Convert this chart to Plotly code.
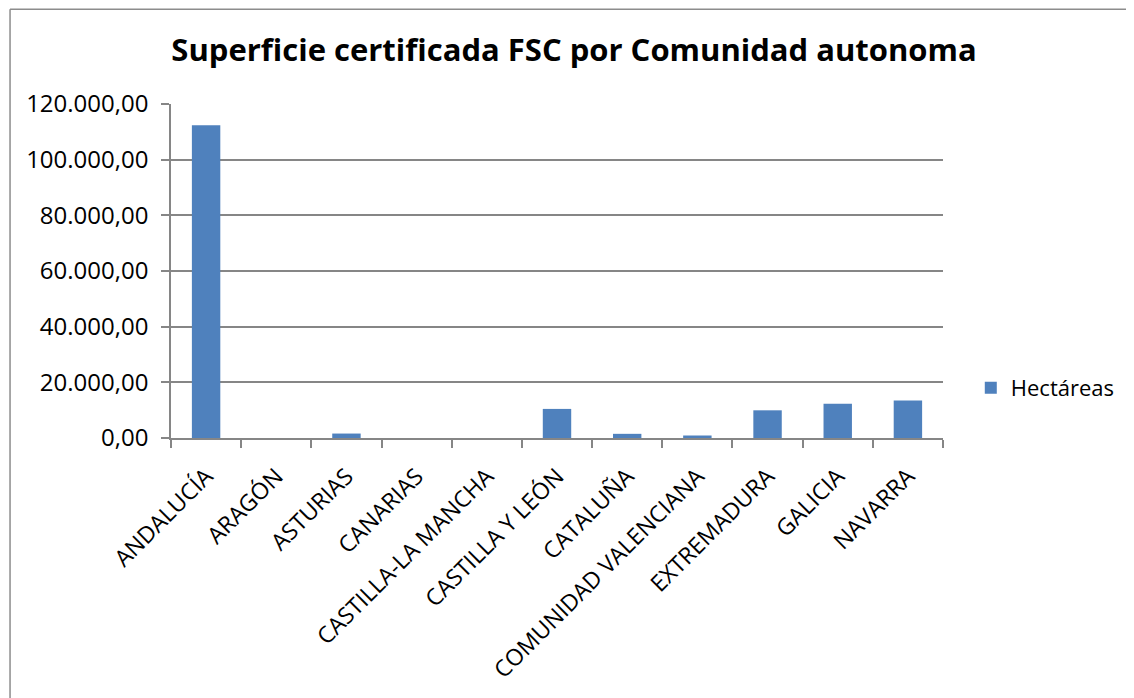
import plotly.graph_objects as go

# Superficie certificada FSC (hectáreas) por comunidad
comunidades = ["ANDALUCÍA", "ARAGÓN", "ASTURIAS", "CANARIAS", "CASTILLA-LA MANCHA",
               "CASTILLA Y LEÓN", "CATALUÑA", "COMUNIDAD VALENCIANA", "EXTREMADURA",
               "GALICIA", "NAVARRA"]
hectareas = [112400, 0, 1600, 0, 0, 10450, 1500, 900, 9950, 12350, 13450]

y_ticks = [0, 20000, 40000, 60000, 80000, 100000, 120000]

GRIS = "#868686"
AZUL = "#4F81BD"

fig = go.Figure()
fig.add_trace(go.Bar(x=comunidades, y=hectareas, name="Hectáreas",
                     marker=dict(color=AZUL, line=dict(width=0))))

# la página añade 8px de margen, así que la figura es algo más pequeña
fig.update_layout(
    width=1126, height=690,
    margin=dict(l=163, r=191, t=96, b=260, autoexpand=False),
    paper_bgcolor="white", plot_bgcolor="white",
    separators=",.",
    bargap=0.595,
    font=dict(family="Open Sans", color="black"),
    title=dict(text="<b>Superficie certificada FSC por Comunidad autonoma</b>",
               x=0.5027, xanchor="center", y=0.939, yanchor="middle",
               font=dict(size=31, family="Open Sans", color="black")),
    showlegend=True,
    legend=dict(x=1.036, y=0.15, xanchor="left", yanchor="middle",
                font=dict(size=22), itemwidth=30, bgcolor="rgba(0,0,0,0)"),
)

fig.update_xaxes(type="category", tickangle=-45, tickson="boundaries",
                 ticks="outside", ticklen=8, tickcolor=GRIS, tickwidth=1.5,
                 showline=True, linecolor=GRIS, linewidth=1.5,
                 showgrid=False, tickfont=dict(size=23), ticklabelstandoff=14)
fig.update_yaxes(range=[0, 120000], tickvals=y_ticks, tickformat=",.2f",
                 ticks="outside", ticklen=8, tickcolor=GRIS, tickwidth=1.5,
                 showline=True, linecolor=GRIS, linewidth=1.5,
                 showgrid=True, gridcolor=GRIS, gridwidth=1.5,
                 zeroline=False, tickfont=dict(size=24), ticklabelstandoff=8)

# marco del gráfico: solo se ven el borde superior y el izquierdo
fig.add_shape(type="line", xref="paper", yref="paper",
              x0=-0.2085, x1=1.35, y0=1.284, y1=1.284,
              line=dict(color="#8c8c8c", width=1.5), layer="below")
fig.add_shape(type="line", xref="paper", yref="paper",
              x0=-0.2085, x1=-0.2085, y0=-0.85, y1=1.284,
              line=dict(color="#8c8c8c", width=1.5), layer="below")

fig.write_html("out.html")
